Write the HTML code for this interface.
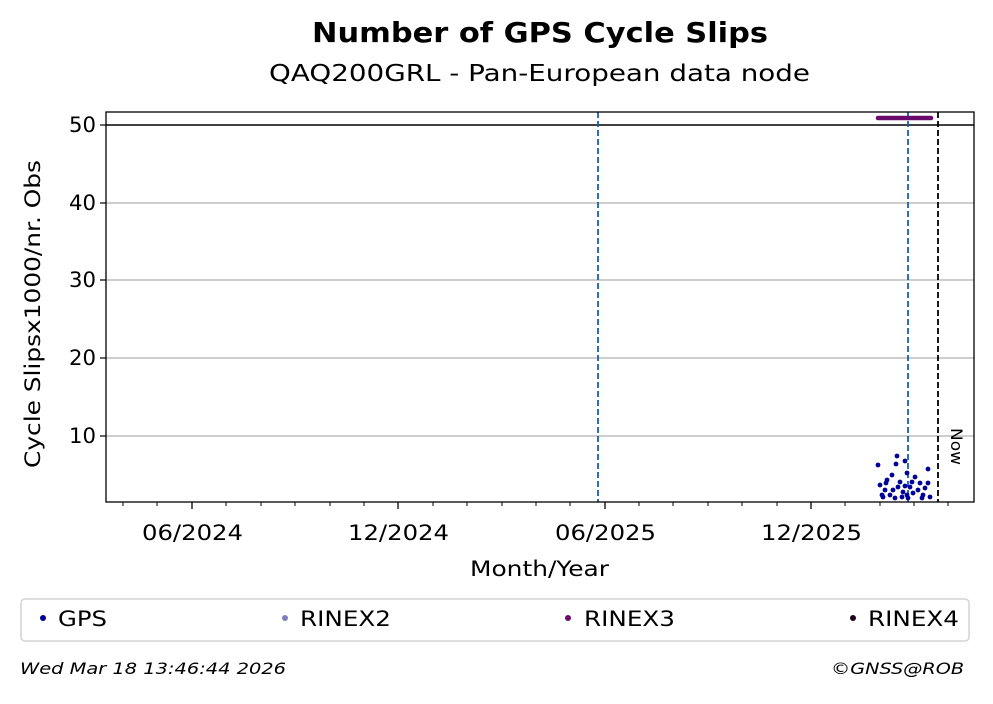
<!DOCTYPE html>
<html><head><meta charset="utf-8"><style>html,body{margin:0;padding:0;background:#fff}</style></head>
<body>
<svg width="993" height="699" viewBox="0 0 993 699" xmlns="http://www.w3.org/2000/svg" font-family="DejaVu Sans, Liberation Sans, sans-serif">
<rect width="993" height="699" fill="#fff"/>
<text x="312" y="42" font-size="28" font-weight="bold" textLength="456" lengthAdjust="spacingAndGlyphs">Number of GPS Cycle Slips</text>
<text x="269" y="81" font-size="23" textLength="541" lengthAdjust="spacingAndGlyphs">QAQ200GRL - Pan-European data node</text>
<g stroke="#b0b0b0" stroke-width="1.3">
<line x1="106" x2="974" y1="436" y2="436"/>
<line x1="106" x2="974" y1="358" y2="358"/>
<line x1="106" x2="974" y1="280" y2="280"/>
<line x1="106" x2="974" y1="203" y2="203"/>
</g>
<line x1="106" x2="974" y1="125" y2="125" stroke="#000" stroke-width="1.5"/>
<g stroke="#000" stroke-width="1.2">
<line x1="100" x2="106" y1="436" y2="436"/><line x1="100" x2="106" y1="358" y2="358"/>
<line x1="100" x2="106" y1="280" y2="280"/><line x1="100" x2="106" y1="203" y2="203"/>
<line x1="100" x2="106" y1="125" y2="125"/>
</g>
<g font-size="21">
<text x="69" y="443" textLength="27" lengthAdjust="spacingAndGlyphs">10</text>
<text x="69" y="365" textLength="27" lengthAdjust="spacingAndGlyphs">20</text>
<text x="69" y="287" textLength="27" lengthAdjust="spacingAndGlyphs">30</text>
<text x="69" y="210" textLength="27" lengthAdjust="spacingAndGlyphs">40</text>
<text x="69" y="132" textLength="27" lengthAdjust="spacingAndGlyphs">50</text>
</g>
<text transform="translate(40,468) rotate(-90)" font-size="21" textLength="308" lengthAdjust="spacingAndGlyphs">Cycle Slipsx1000/nr. Obs</text>
<g stroke="#000" stroke-width="1">
<line x1="123" x2="123" y1="502" y2="506"/><line x1="157" x2="157" y1="502" y2="506"/>
<line x1="226" x2="226" y1="502" y2="506"/><line x1="261" x2="261" y1="502" y2="506"/>
<line x1="295" x2="295" y1="502" y2="506"/><line x1="330" x2="330" y1="502" y2="506"/>
<line x1="364" x2="364" y1="502" y2="506"/><line x1="433" x2="433" y1="502" y2="506"/>
<line x1="467" x2="467" y1="502" y2="506"/><line x1="502" x2="502" y1="502" y2="506"/>
<line x1="536" x2="536" y1="502" y2="506"/><line x1="570" x2="570" y1="502" y2="506"/>
<line x1="639" x2="639" y1="502" y2="506"/><line x1="673" x2="673" y1="502" y2="506"/>
<line x1="708" x2="708" y1="502" y2="506"/><line x1="742" x2="742" y1="502" y2="506"/>
<line x1="777" x2="777" y1="502" y2="506"/><line x1="845" x2="845" y1="502" y2="506"/>
<line x1="880" x2="880" y1="502" y2="506"/><line x1="914" x2="914" y1="502" y2="506"/>
<line x1="948" x2="948" y1="502" y2="506"/>
</g>
<g stroke="#000" stroke-width="1.3">
<line x1="192" x2="192" y1="502" y2="509"/><line x1="398" x2="398" y1="502" y2="509"/>
<line x1="605" x2="605" y1="502" y2="509"/><line x1="811" x2="811" y1="502" y2="509"/>
</g>
<g font-size="21">
<text x="142" y="540" textLength="101" lengthAdjust="spacingAndGlyphs">06/2024</text>
<text x="348" y="540" textLength="101" lengthAdjust="spacingAndGlyphs">12/2024</text>
<text x="555" y="540" textLength="101" lengthAdjust="spacingAndGlyphs">06/2025</text>
<text x="761" y="540" textLength="101" lengthAdjust="spacingAndGlyphs">12/2025</text>
</g>
<text x="470" y="576" font-size="21" textLength="139" lengthAdjust="spacingAndGlyphs">Month/Year</text>
<line x1="598" x2="598" y1="112" y2="502" stroke="#1560b0" stroke-width="1.8" stroke-dasharray="6,3"/>
<line x1="908" x2="908" y1="112" y2="502" stroke="#1560b0" stroke-width="1.8" stroke-dasharray="6,3"/>
<line x1="938" x2="938" y1="112" y2="502" stroke="#000" stroke-width="1.8" stroke-dasharray="6,3"/>
<text transform="translate(951,428) rotate(90)" font-size="16" textLength="37" lengthAdjust="spacingAndGlyphs">Now</text>
<line x1="878" x2="931" y1="118" y2="118" stroke="#6a0a6a" stroke-width="4.5" stroke-linecap="round"/>
<g fill="#00009a">
<circle cx="878" cy="465" r="2.4"/><circle cx="897" cy="456" r="2.4"/><circle cx="896" cy="464" r="2.4"/>
<circle cx="905" cy="461" r="2.4"/><circle cx="928" cy="469" r="2.4"/><circle cx="892" cy="475" r="2.4"/>
<circle cx="887" cy="480" r="2.4"/><circle cx="880" cy="485" r="2.4"/><circle cx="882" cy="495" r="2.4"/>
<circle cx="893" cy="490" r="2.4"/><circle cx="900" cy="482" r="2.4"/><circle cx="907" cy="473" r="2.4"/>
<circle cx="915" cy="477" r="2.4"/><circle cx="920" cy="483" r="2.4"/><circle cx="910" cy="487" r="2.4"/>
<circle cx="903" cy="492" r="2.4"/><circle cx="895" cy="498" r="2.4"/><circle cx="902" cy="497" r="2.4"/>
<circle cx="913" cy="493" r="2.4"/><circle cx="923" cy="495" r="2.4"/><circle cx="930" cy="497" r="2.4"/>
<circle cx="928" cy="483" r="2.4"/><circle cx="885" cy="490" r="2.4"/><circle cx="890" cy="495" r="2.4"/>
<circle cx="908" cy="498" r="2.4"/><circle cx="918" cy="490" r="2.4"/><circle cx="883" cy="497" r="2.4"/>
<circle cx="898" cy="487" r="2.4"/><circle cx="925" cy="488" r="2.4"/><circle cx="912" cy="482" r="2.4"/>
<circle cx="907" cy="495" r="2.4"/><circle cx="922" cy="498" r="2.4"/><circle cx="886" cy="483" r="2.4"/>
<circle cx="905" cy="486" r="2.4"/>
</g>
<rect x="106" y="112" width="868" height="390" fill="none" stroke="#000" stroke-width="1.3"/>
<rect x="21" y="599" width="948" height="42" rx="4" fill="#fff" stroke="#d4d4d4" stroke-width="1.5"/>
<g font-size="21">
<circle cx="43" cy="618" r="3" fill="#00009a"/><text x="58" y="626" textLength="49" lengthAdjust="spacingAndGlyphs">GPS</text>
<circle cx="285" cy="618" r="3" fill="#8080c0"/><text x="300" y="626" textLength="91" lengthAdjust="spacingAndGlyphs">RINEX2</text>
<circle cx="568" cy="618" r="3" fill="#6a0a6a"/><text x="584" y="626" textLength="91" lengthAdjust="spacingAndGlyphs">RINEX3</text>
<circle cx="853" cy="618" r="3" fill="#200020"/><text x="868" y="626" textLength="91" lengthAdjust="spacingAndGlyphs">RINEX4</text>
</g>
<text x="20" y="674" font-size="16" font-style="italic" textLength="266" lengthAdjust="spacingAndGlyphs">Wed Mar 18 13:46:44 2026</text>
<text x="831" y="674" font-size="16" font-style="italic" textLength="133" lengthAdjust="spacingAndGlyphs">©GNSS@ROB</text>
</svg>
</body></html>
